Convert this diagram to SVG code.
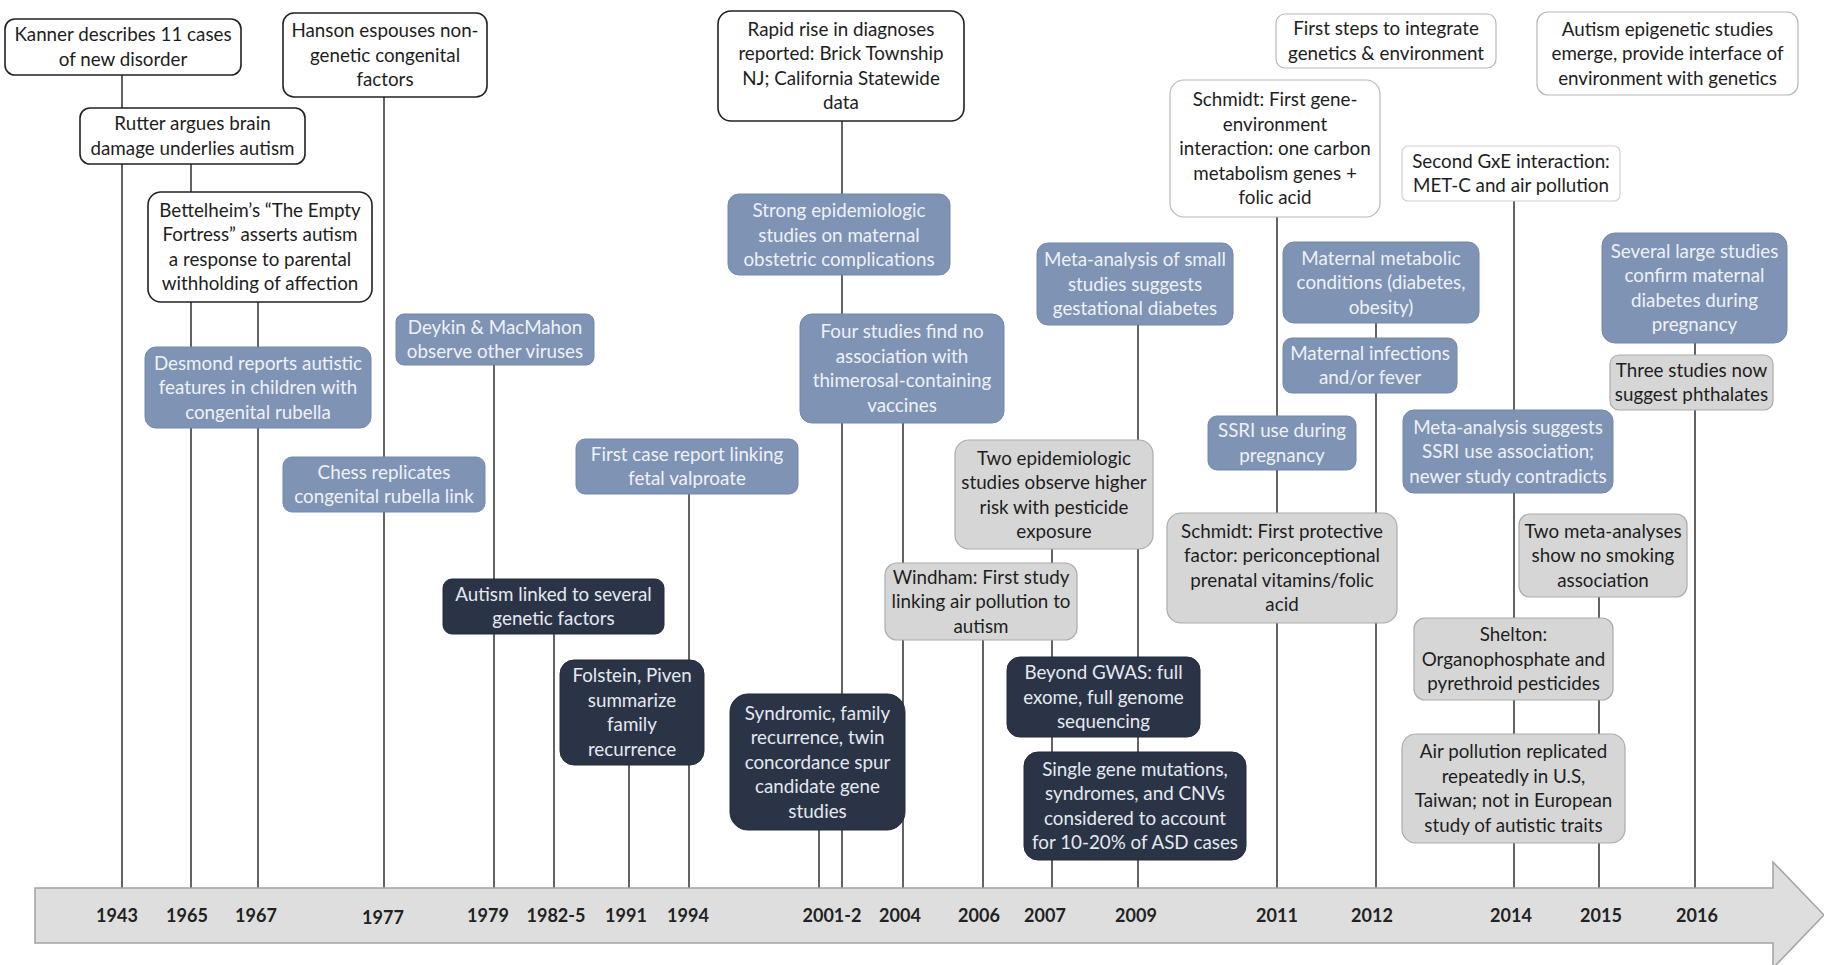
<svg xmlns="http://www.w3.org/2000/svg" width="1824" height="965" viewBox="0 0 1824 965">
<style>
text{font-family:Lato,"Open Sans","Liberation Sans",sans-serif;font-size:18.8px;text-anchor:middle}
.wb rect{fill:#fff;stroke:#222;stroke-width:1.6}
.wg rect{fill:#fff;stroke:#b8b8b8;stroke-width:1.2}
.bl rect{fill:#7f93b5;stroke:#7388ab;stroke-width:1}
.nv rect{fill:#2b3447;stroke:#232b3b;stroke-width:1}
.gy rect{fill:#d6d6d6;stroke:#ababab;stroke-width:1.2}
.wb text,.wg text,.gy text{fill:#1e1e1e}
.bl text{fill:#eef1f7}
.nv text{fill:#e4e8ef}
#connectors line{stroke:#3c3c3c;stroke-width:1.6}
.yr{font-weight:bold;font-size:18px;fill:#222}
</style>
<rect width="1824" height="965" fill="#fff"/>
<g id="connectors">
<line x1="122" y1="75" x2="122" y2="888"/>
<line x1="191" y1="164" x2="191" y2="888"/>
<line x1="258" y1="302" x2="258" y2="888"/>
<line x1="384" y1="97" x2="384" y2="888"/>
<line x1="494" y1="365" x2="494" y2="888"/>
<line x1="554" y1="634" x2="554" y2="888"/>
<line x1="629" y1="765" x2="629" y2="888"/>
<line x1="689" y1="494" x2="689" y2="888"/>
<line x1="819" y1="830" x2="819" y2="888"/>
<line x1="842" y1="121" x2="842" y2="888"/>
<line x1="903" y1="422" x2="903" y2="888"/>
<line x1="983" y1="640" x2="983" y2="888"/>
<line x1="1052" y1="549" x2="1052" y2="888"/>
<line x1="1138" y1="325" x2="1138" y2="888"/>
<line x1="1277" y1="217" x2="1277" y2="888"/>
<line x1="1376" y1="323" x2="1376" y2="888"/>
<line x1="1514" y1="201" x2="1514" y2="888"/>
<line x1="1599" y1="597" x2="1599" y2="888"/>
<line x1="1695" y1="343" x2="1695" y2="888"/>
</g>
<g id="timeline">
<polygon points="35,888 1773,888 1773,862 1824,915 1773,968 1773,943 35,943" fill="#dedede" stroke="#a3a3a3" stroke-width="1.5"/>
<text class="yr" x="117" y="922">1943</text>
<text class="yr" x="187" y="922">1965</text>
<text class="yr" x="256" y="922">1967</text>
<text class="yr" x="383" y="924">1977</text>
<text class="yr" x="488" y="922">1979</text>
<text class="yr" x="556" y="922">1982-5</text>
<text class="yr" x="626" y="922">1991</text>
<text class="yr" x="688" y="922">1994</text>
<text class="yr" x="832" y="922">2001-2</text>
<text class="yr" x="900" y="922">2004</text>
<text class="yr" x="979" y="922">2006</text>
<text class="yr" x="1045" y="922">2007</text>
<text class="yr" x="1136" y="922">2009</text>
<text class="yr" x="1277" y="922">2011</text>
<text class="yr" x="1372" y="922">2012</text>
<text class="yr" x="1511" y="922">2014</text>
<text class="yr" x="1601" y="922">2015</text>
<text class="yr" x="1697" y="922">2016</text>
</g>
<g id="kanner" class="wb"><rect x="5" y="19" width="236" height="56" rx="10"/><text x="123" y="41.25">Kanner describes 11 cases<tspan x="123" dy="24.5">of new disorder</tspan></text></g>
<g id="hanson" class="wb"><rect x="283" y="13" width="204" height="84" rx="11"/><text x="385" y="37">Hanson espouses non-<tspan x="385" dy="24.5">genetic congenital</tspan><tspan x="385" dy="24.5">factors</tspan></text></g>
<g id="rutter" class="wb"><rect x="80" y="108" width="225" height="56" rx="10"/><text x="192.5" y="130.25">Rutter argues brain<tspan x="192.5" dy="24.5">damage underlies autism</tspan></text></g>
<g id="bettelheim" class="wb"><rect x="148" y="192" width="224" height="110" rx="13"/><text x="260" y="216.75">Bettelheim’s “The Empty<tspan x="260" dy="24.5">Fortress” asserts autism</tspan><tspan x="260" dy="24.5">a response to parental</tspan><tspan x="260" dy="24.5">withholding of affection</tspan></text></g>
<g id="rapid-rise" class="wb"><rect x="718" y="11" width="246" height="110" rx="13"/><text x="841" y="35.75">Rapid rise in diagnoses<tspan x="841" dy="24.5">reported: Brick Township</tspan><tspan x="841" dy="24.5">NJ; California Statewide</tspan><tspan x="841" dy="24.5">data</tspan></text></g>
<g id="schmidt-gxe" class="wg"><rect x="1170" y="80" width="210" height="137" rx="14"/><text x="1275" y="106">Schmidt: First gene-<tspan x="1275" dy="24.5">environment</tspan><tspan x="1275" dy="24.5">interaction: one carbon</tspan><tspan x="1275" dy="24.5">metabolism genes +</tspan><tspan x="1275" dy="24.5">folic acid</tspan></text></g>
<g id="first-steps" class="wg"><rect x="1276" y="14" width="220" height="54" rx="9"/><text x="1386" y="35.25">First steps to integrate<tspan x="1386" dy="24.5">genetics &amp; environment</tspan></text></g>
<g id="epigenetic" class="wg"><rect x="1537" y="12" width="261" height="83" rx="11"/><text x="1667.5" y="35.5">Autism epigenetic studies<tspan x="1667.5" dy="24.5">emerge, provide interface of</tspan><tspan x="1667.5" dy="24.5">environment with genetics</tspan></text></g>
<g id="second-gxe" class="wg"><rect x="1402" y="146" width="218" height="55" rx="6" style="stroke:#d0d0d0"/><text x="1511" y="167.75">Second GxE interaction:<tspan x="1511" dy="24.5">MET-C and air pollution</tspan></text></g>
<g id="desmond" class="bl"><rect x="145" y="347" width="226" height="81" rx="11"/><text x="258" y="369.5">Desmond reports autistic<tspan x="258" dy="24.5">features in children with</tspan><tspan x="258" dy="24.5">congenital rubella</tspan></text></g>
<g id="chess" class="bl"><rect x="283" y="457" width="202" height="55" rx="9"/><text x="384" y="478.75">Chess replicates<tspan x="384" dy="24.5">congenital rubella link</tspan></text></g>
<g id="deykin" class="bl"><rect x="396" y="314" width="198" height="51" rx="8"/><text x="495" y="333.75">Deykin &amp; MacMahon<tspan x="495" dy="24.5">observe other viruses</tspan></text></g>
<g id="valproate" class="bl"><rect x="576" y="439" width="222" height="55" rx="9"/><text x="687" y="460.75">First case report linking<tspan x="687" dy="24.5">fetal valproate</tspan></text></g>
<g id="strong-epi" class="bl"><rect x="728" y="194" width="222" height="81" rx="11"/><text x="839" y="217">Strong epidemiologic<tspan x="839" dy="24.5">studies on maternal</tspan><tspan x="839" dy="24.5">obstetric complications</tspan></text></g>
<g id="four-studies" class="bl"><rect x="800" y="314" width="204" height="109" rx="12"/><text x="902" y="338">Four studies find no<tspan x="902" dy="24.5">association with</tspan><tspan x="902" dy="24.5">thimerosal-containing</tspan><tspan x="902" dy="24.5">vaccines</tspan></text></g>
<g id="meta-small" class="bl"><rect x="1037" y="243" width="196" height="82" rx="11"/><text x="1135" y="266">Meta-analysis of small<tspan x="1135" dy="24.5">studies suggests</tspan><tspan x="1135" dy="24.5">gestational diabetes</tspan></text></g>
<g id="maternal-metabolic" class="bl"><rect x="1283" y="242" width="196" height="81" rx="11"/><text x="1381" y="264.5">Maternal metabolic<tspan x="1381" dy="24.5">conditions (diabetes,</tspan><tspan x="1381" dy="24.5">obesity)</tspan></text></g>
<g id="maternal-infections" class="bl"><rect x="1283" y="338" width="174" height="55" rx="9"/><text x="1370" y="359.75">Maternal infections<tspan x="1370" dy="24.5">and/or fever</tspan></text></g>
<g id="ssri-use" class="bl"><rect x="1208" y="416" width="148" height="54" rx="9"/><text x="1282" y="437.25">SSRI use during<tspan x="1282" dy="24.5">pregnancy</tspan></text></g>
<g id="meta-ssri" class="bl"><rect x="1403" y="410" width="210" height="83" rx="11"/><text x="1508" y="433.5">Meta-analysis suggests<tspan x="1508" dy="24.5">SSRI use association;</tspan><tspan x="1508" dy="24.5">newer study contradicts</tspan></text></g>
<g id="several-large" class="bl"><rect x="1602" y="233" width="185" height="110" rx="13"/><text x="1694.5" y="257.75">Several large studies<tspan x="1694.5" dy="24.5">confirm maternal</tspan><tspan x="1694.5" dy="24.5">diabetes during</tspan><tspan x="1694.5" dy="24.5">pregnancy</tspan></text></g>
<g id="autism-linked" class="nv"><rect x="443" y="579" width="221" height="55" rx="9"/><text x="553.5" y="600.75">Autism linked to several<tspan x="553.5" dy="24.5">genetic factors</tspan></text></g>
<g id="folstein" class="nv"><rect x="560" y="660" width="144" height="105" rx="14"/><text x="632" y="682.25">Folstein, Piven<tspan x="632" dy="24.5">summarize</tspan><tspan x="632" dy="24.5">family</tspan><tspan x="632" dy="24.5">recurrence</tspan></text></g>
<g id="syndromic" class="nv"><rect x="730" y="694" width="175" height="136" rx="18"/><text x="817.5" y="719.5">Syndromic, family<tspan x="817.5" dy="24.5">recurrence, twin</tspan><tspan x="817.5" dy="24.5">concordance spur</tspan><tspan x="817.5" dy="24.5">candidate gene</tspan><tspan x="817.5" dy="24.5">studies</tspan></text></g>
<g id="beyond-gwas" class="nv"><rect x="1007" y="657" width="193" height="80" rx="13"/><text x="1103.5" y="679">Beyond GWAS: full<tspan x="1103.5" dy="24.5">exome, full genome</tspan><tspan x="1103.5" dy="24.5">sequencing</tspan></text></g>
<g id="single-gene" class="nv"><rect x="1024" y="752" width="222" height="108" rx="14"/><text x="1135" y="775.75">Single gene mutations,<tspan x="1135" dy="24.5">syndromes, and CNVs</tspan><tspan x="1135" dy="24.5">considered to account</tspan><tspan x="1135" dy="24.5">for 10-20% of ASD cases</tspan></text></g>
<g id="two-epi" class="gy"><rect x="955" y="440" width="198" height="109" rx="14"/><text x="1054" y="464.75">Two epidemiologic<tspan x="1054" dy="24.5">studies observe higher</tspan><tspan x="1054" dy="24.5">risk with pesticide</tspan><tspan x="1054" dy="24.5">exposure</tspan></text></g>
<g id="windham" class="gy"><rect x="885" y="563" width="192" height="77" rx="12"/><text x="981" y="583.5">Windham: First study<tspan x="981" dy="24.5">linking air pollution to</tspan><tspan x="981" dy="24.5">autism</tspan></text></g>
<g id="schmidt-protective" class="gy"><rect x="1167" y="513" width="230" height="110" rx="14"/><text x="1282" y="537.75">Schmidt: First protective<tspan x="1282" dy="24.5">factor: periconceptional</tspan><tspan x="1282" dy="24.5">prenatal vitamins/folic</tspan><tspan x="1282" dy="24.5">acid</tspan></text></g>
<g id="three-studies" class="gy"><rect x="1610" y="355" width="163" height="55" rx="9"/><text x="1691.5" y="376.75">Three studies now<tspan x="1691.5" dy="24.5">suggest phthalates</tspan></text></g>
<g id="two-meta" class="gy"><rect x="1519" y="514" width="168" height="83" rx="11"/><text x="1603" y="537.5">Two meta-analyses<tspan x="1603" dy="24.5">show no smoking</tspan><tspan x="1603" dy="24.5">association</tspan></text></g>
<g id="shelton" class="gy"><rect x="1414" y="618" width="199" height="82" rx="11"/><text x="1513.5" y="641">Shelton:<tspan x="1513.5" dy="24.5">Organophosphate and</tspan><tspan x="1513.5" dy="24.5">pyrethroid pesticides</tspan></text></g>
<g id="air-pollution" class="gy"><rect x="1402" y="734" width="223" height="109" rx="14"/><text x="1513.5" y="758.25">Air pollution replicated<tspan x="1513.5" dy="24.5">repeatedly in U.S,</tspan><tspan x="1513.5" dy="24.5">Taiwan; not in European</tspan><tspan x="1513.5" dy="24.5">study of autistic traits</tspan></text></g>
</svg>
